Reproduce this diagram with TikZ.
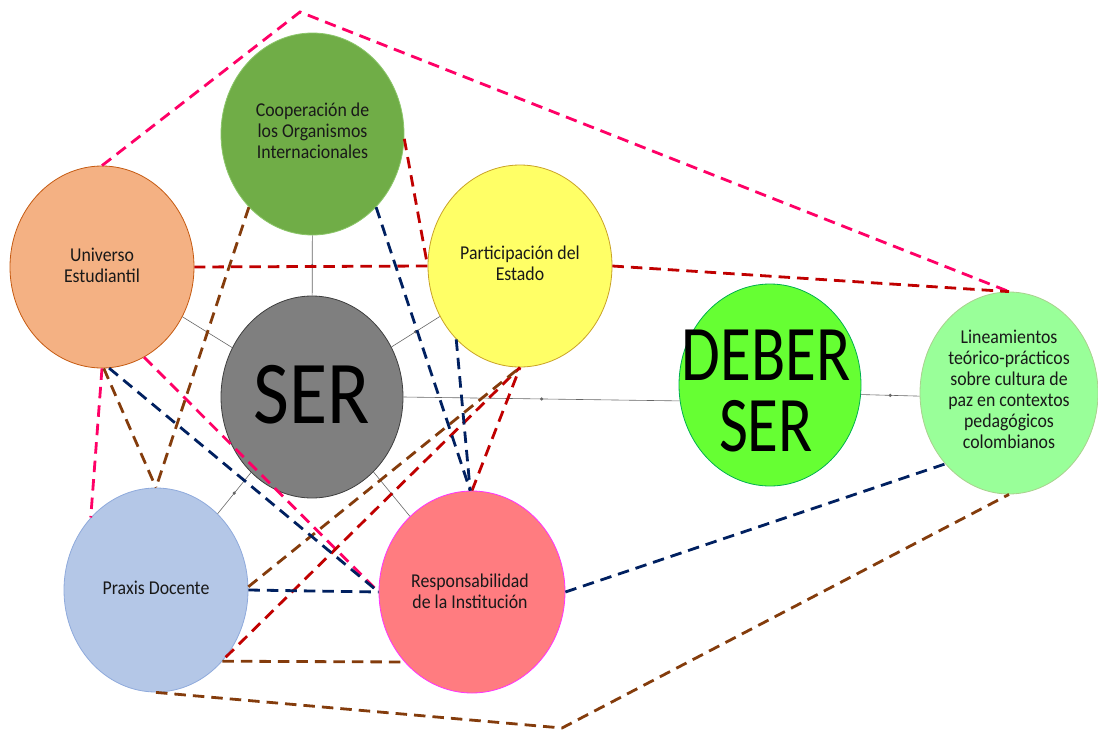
\documentclass[tikz,border=0pt]{standalone}
\usepackage{fontspec}
\setmainfont{Carlito}
\usepackage{graphicx}
\usetikzlibrary{shapes.geometric}
\definecolor{coopfill}{HTML}{70AD47}
\definecolor{coopdraw}{HTML}{8CC66A}
\definecolor{univfill}{HTML}{F4B183}
\definecolor{univdraw}{HTML}{C55A11}
\definecolor{partfill}{HTML}{FFFF66}
\definecolor{partdraw}{HTML}{C9A227}
\definecolor{serfill}{HTML}{7F7F7F}
\definecolor{serdraw}{HTML}{3F3F3F}
\definecolor{deberfill}{HTML}{66FF33}
\definecolor{deberdraw}{HTML}{00B050}
\definecolor{linfill}{HTML}{99FF99}
\definecolor{lindraw}{HTML}{A9D18E}
\definecolor{praxfill}{HTML}{B4C7E7}
\definecolor{praxdraw}{HTML}{8FAADC}
\definecolor{respfill}{HTML}{FF7C80}
\definecolor{respdraw}{HTML}{FF33FF}
\definecolor{cpink}{HTML}{FF0066}
\definecolor{cred}{HTML}{C00000}
\definecolor{cbrown}{HTML}{843C0C}
\definecolor{cnavy}{HTML}{002060}
\newcommand{\vstr}[1]{\scalebox{1}[1.1]{#1}}
\newcommand{\smalltxt}[1]{\vstr{\fontsize{17.8}{19}\selectfont\begin{tabular}{@{}c@{}}#1\end{tabular}}}
\tikzset{
  bubble/.style={ellipse, inner sep=0pt, minimum width=184pt, minimum height=202pt, line width=0.8pt},
  btext/.style={inner sep=0pt, align=center, text=black!90},
  dline/.style={line width=2.8pt, dash pattern=on 11.5pt off 7pt},
  link/.style={draw=black!60, line width=0.6pt},
  midpt/.style={circle, fill=black!60, inner sep=0pt, minimum size=3.5pt}
}
\begin{document}
\begin{tikzpicture}[x=1pt,y=-1pt]
\useasboundingbox (0,0) rectangle (1098,731);
% bubbles
\node[bubble, fill=coopfill, draw=coopdraw, minimum width=183pt] (coop) at (312.5,134) {};
\node[bubble, fill=univfill, draw=univdraw] (univ) at (102,267) {};
\node[bubble, fill=partfill, draw=partdraw] (part) at (520,266) {};
\node[bubble, fill=serfill, draw=serdraw, minimum width=182pt] (ser) at (312,397) {};
\node[bubble, fill=deberfill, draw=deberdraw, minimum width=182pt] (deber) at (770,385) {};
\node[bubble, fill=linfill, draw=lindraw, minimum width=178pt] (lin) at (1009,393) {};
\node[bubble, fill=praxfill, draw=praxdraw, minimum height=204pt] (prax) at (156,590) {};
\node[bubble, fill=respfill, draw=respdraw, minimum width=186pt] (resp) at (472,592) {};
% texts
\node[btext] (coopt) at (312.5,133) {\smalltxt{Cooperación de\\los Organismos\\Internacionales}};
\node[btext] (univt) at (102,268) {\smalltxt{Universo\\Estudiantil}};
\node[btext] (partt) at (520,266) {\smalltxt{Participación del\\Estado}};
\node[btext] (sert) at (312,395) {\scalebox{1}[1.15]{\fontsize{78}{80}\selectfont\color{black}SER}};
\node[btext] (debert) at (766,401) {\scalebox{1}[1.25]{\fontsize{63}{54}\selectfont\color{black}\begin{tabular}{@{}c@{}}DEBER\\SER\end{tabular}}};
\node[btext] (lint) at (1009,392) {\smalltxt{Lineamientos\\teórico-prácticos\\sobre cultura de\\paz en contextos\\pedagógicos\\colombianos}};
\node[btext] (praxt) at (156,590) {\smalltxt{Praxis Docente}};
\node[btext] (respt) at (470,594) {\smalltxt{Responsabilidad\\de la Institución}};
\coordinate (apex) at (300,12);
\coordinate (bot) at (562,728);
% thin links
\draw[link] (coop) -- node[midpt] (m1) {} (ser);
\draw[link] (univ) -- node[midpt] (m2) {} (ser);
\draw[link] (part) -- node[midpt] (m3) {} (ser);
\draw[link] (prax) -- node[midpt] (m4) {} (ser);
\draw[link] (resp) -- node[midpt] (m5) {} (ser);
\draw[link] (ser.east) -- node[midpt] (m6) {} (deber.190);
\draw[link] (deber.354) -- node[midpt] (m7) {} (lin.182);
% pink
\draw[dline, cpink] (univ.90) -- (apex) -- (lin.90);
\draw[dline, cpink] (univ.270) -- (prax.132.5);
\draw[dline, cpink] (univ.295) -- (resp.180);
% dark red
\draw[dline, cred] (coop.357) -- (part.180) -- (univ.0);
\draw[dline, cred] (part.0) -- (lin.90);
\draw[dline, cred] (prax.316) -- (part.270);
\draw[dline, cred] (resp.90) -- (part.270);
% brown
\draw[dline, cbrown] (coop.229) -- (prax.90);
\draw[dline, cbrown] (univ.271) -- (prax.90);
\draw[dline, cbrown] (prax.2) -- (part.270);
\draw[dline, cbrown] (prax.313) -- (resp.226.7);
\draw[dline, cbrown] (prax.270) -- (bot) -- (lin.270);
% navy
\draw[dline, cnavy] (coop.311) -- (resp.91);
\draw[dline, cnavy] (part.229) -- (resp.91);
\draw[dline, cnavy] (univ.274) -- (resp.180);
\draw[dline, cnavy] (prax.0) -- (resp.180);
\draw[dline, cnavy] (resp.0) -- (lin.228.4);
\end{tikzpicture}
\end{document}
